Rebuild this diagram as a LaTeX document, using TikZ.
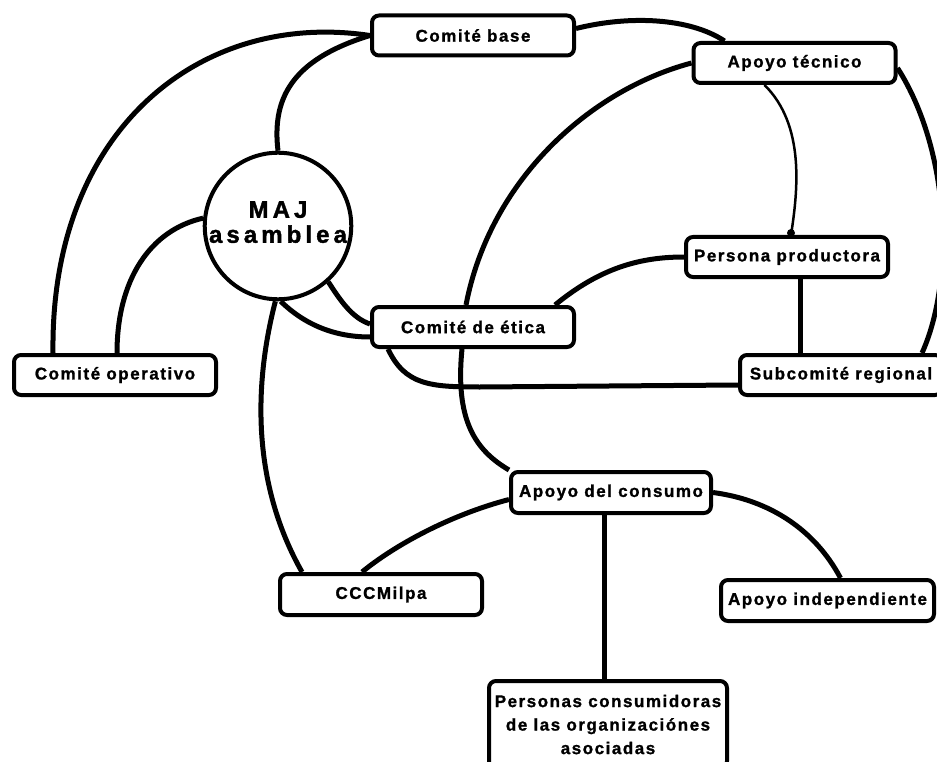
\documentclass[tikz,border=0pt]{standalone}
\usepackage{fontspec}
\newfontfamily\lblfont{Liberation Sans Bold}[LetterSpace=9,FakeBold=1.2]
\newfontfamily\majfont{Liberation Sans Bold}[LetterSpace=17,FakeBold=1.5]
\usetikzlibrary{shapes.geometric,backgrounds,calc}
\begin{document}
\begin{tikzpicture}[x=1pt,y=-1pt,
  box/.style={draw,line width=4pt,rounded corners=7pt,fill=white,inner sep=0pt,
    minimum width=202pt,minimum height=40pt,align=center,
    font=\lblfont\fontsize{17}{23.5}\selectfont},
  conn/.style={line width=5pt},
  thinconn/.style={line width=2.5pt}]
\useasboundingbox (0,0) rectangle (937,762);
\clip (0,0) rectangle (937,762);
% nodes
\node[box] (base) at (473,35.5) {Comité base};
\node[box] (tecnico) at (794.5,63) {Apoyo técnico};
\node[box] (etica) at (473,327) {Comité de ética};
\node[box] (operativo) at (115,375) {Comité operativo};
\node[box] (productora) at (787,257) {Persona productora};
\node[box] (subcomite) at (841,375) {Subcomité regional};
\node[box,minimum width=200pt,minimum height=41pt] (consumo) at (611,492.5) {Apoyo del consumo};
\node[box,minimum height=41pt] (milpa) at (381,594.5) {CCCMilpa};
\node[box,minimum width=213pt,minimum height=41pt] (independiente) at (827.5,600.5) {Apoyo independiente};
\node[box,minimum width=238pt,minimum height=87pt] (consumidoras) at (608,724.5) {Personas consumidoras\\de las organizaciónes\\asociadas};
\node[draw,circle,line width=4pt,fill=white,minimum size=146pt,
  inner sep=0pt,align=center,font=\majfont\fontsize{24}{25}\selectfont] (maj) at (278,226) {MAJ\\asamblea\rule[-8pt]{0pt}{8pt}};
% connectors
\begin{scope}[on background layer]
\clip (0,0) rectangle (937,762);
\fill[white] (0,0) rectangle (937,762);
\draw[conn] (base.west) .. controls (200,10) and (50,130) .. ([xshift=-62pt]operativo.north);
\draw[conn] (base.west) .. controls (290,60) and (272,100) .. (maj.north);
\draw[conn] ([yshift=7pt]base.east) .. controls (630,15) and (690,18) .. ([xshift=-70pt]tecnico.north);
\draw[conn] (tecnico.west) .. controls (590,90) and (490,180) .. ([xshift=-7pt]etica.north);
\draw[conn] (maj.174) .. controls (150,230) and (117,280) .. ([xshift=2pt]operativo.north);
\draw[conn] (maj.-48) .. controls (340,300) and (352,318) .. ([yshift=3pt]etica.west);
\draw[conn] (maj.-88) .. controls (305,325) and (335,337) .. ([yshift=-10pt]etica.west);
\draw[conn] ([xshift=-85pt]etica.south) .. controls (405,385) and (430,387) .. (480,387) -- ([yshift=-10pt]subcomite.west);
\draw[conn] ([xshift=82pt]etica.north) .. controls (600,268) and (640,257) .. (productora.west);
\draw[thinconn] ([xshift=-30pt]tecnico.south) .. controls (805,125) and (798,190) .. ([xshift=4pt]productora.north);
\fill ([xshift=4pt,yshift=2pt]productora.north) circle (4);
\draw[conn] ([yshift=-5pt]tecnico.east) .. controls (950,150) and (955,280) .. ([xshift=81pt]subcomite.north);
\draw[conn] ([xshift=13pt]productora.south) -- ([xshift=-41pt]subcomite.north);
\draw[conn] ([yshift=-7pt]consumo.west) .. controls (450,515) and (395,545) .. ([xshift=-19pt]milpa.north);
\draw[conn] (consumo.east) .. controls (770,500) and (815,530) .. ([xshift=13pt]independiente.north);
\draw[conn] ([xshift=-7pt]consumo.south) -- ([xshift=-4pt]consumidoras.north);
\draw[conn] (maj.-92) .. controls (255,380) and (250,480) .. ([xshift=-79pt]milpa.north);
\draw[conn] ([xshift=-11pt]etica.south) .. controls (455,420) and (475,450) .. (consumo.north west);
\end{scope}
\end{tikzpicture}
\end{document}
